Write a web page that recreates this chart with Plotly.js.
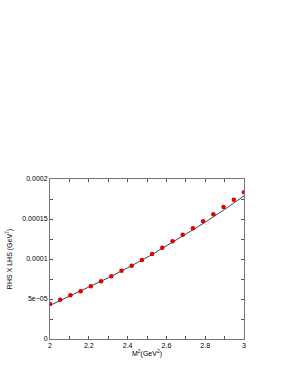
<!DOCTYPE html>
<html><head><meta charset="utf-8">
<script src="https://cdn.plot.ly/plotly-3.0.1.min.js"></script>
<style>html,body{margin:0;padding:0;background:#fff}</style>
</head><body><div id="chart" style="width:295px;height:382px"></div>
<script>
const xPoints = [2, 2.0526, 2.1053, 2.1579, 2.2105, 2.2632, 2.3158, 2.3684, 2.4211, 2.4737, 2.5263, 2.5789, 2.6316, 2.6842, 2.7368, 2.7895, 2.8421, 2.8947, 2.9474, 3];
const yPoints = [4.38e-5, 4.92e-5, 5.46e-5, 5.96e-5, 6.58e-5, 7.21e-5, 7.83e-5, 8.54e-5, 9.17e-5, 9.88e-5, 1.0625e-4, 1.142e-4, 1.221e-4, 1.304e-4, 1.383e-4, 1.471e-4, 1.558e-4, 1.65e-4, 1.741e-4, 1.833e-4];
const xLine = [2, 2.1, 2.2, 2.3, 2.4, 2.5, 2.6, 2.7, 2.8, 2.9, 3];
const yLine = [4.2e-5, 5.35e-5, 6.5e-5, 7.65e-5, 8.9e-5, 1.02e-4, 1.165e-4, 1.31e-4, 1.46e-4, 1.62e-4, 1.79e-4];

const font = {family: 'Liberation Sans, Arial, sans-serif', size: 7, color: '#000'};
Plotly.newPlot('chart', [
  {x: xLine, y: yLine, type: 'scatter', mode: 'lines', line: {color: '#444', width: 1, shape: 'spline'}, hoverinfo: 'skip'},
  {x: xPoints, y: yPoints, type: 'scatter', mode: 'markers', marker: {color: '#e00000', size: 4.5}}
], {
  width: 295, height: 382,
  margin: {l: 50, r: 51, t: 179, b: 43},
  showlegend: false,
  paper_bgcolor: '#fff', plot_bgcolor: '#fff',
  font: font,
  xaxis: {range: [2, 3], tickvals: [2, 2.2, 2.4, 2.6, 2.8, 3], ticktext: ['2','2.2','2.4','2.6','2.8','3'],
    ticks: 'inside', ticklen: 3, tickcolor: '#555', showline: true, linecolor: '#777', linewidth: 1, mirror: 'ticks',
    minor: {dtick: 0.1, tick0: 2, ticks: 'inside', ticklen: 3, tickcolor: '#555', showgrid: false},
    showgrid: false, zeroline: false, tickfont: font,
    title: {text: 'M<sup>2</sup>(GeV<sup>2</sup>)', font: font, standoff: 1}},
  yaxis: {range: [0, 0.0002], tickvals: [0, 5e-5, 1e-4, 1.5e-4, 2e-4], ticktext: ['0','5e\u221205','0.0001','0.00015','0.0002'],
    ticks: 'inside', ticklen: 3, tickcolor: '#555', showline: true, linecolor: '#777', linewidth: 1, mirror: 'ticks',
    minor: {dtick: 2.5e-5, tick0: 0, ticks: 'inside', ticklen: 3, tickcolor: '#555', showgrid: false},
    showgrid: false, zeroline: false, tickfont: font,
    title: {text: 'RHS X LHS (GeV<sup>7</sup>)', font: font, standoff: 8}}
}, {displayModeBar: false, staticPlot: true});
</script></body></html>
